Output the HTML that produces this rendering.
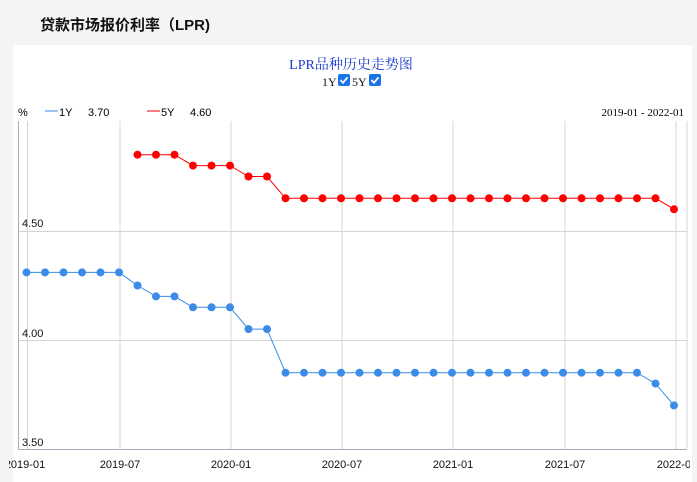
<!DOCTYPE html>
<html><head><meta charset="utf-8"><style>
body{margin:0;width:697px;height:482px;background:#f4f4f4;font-family:"Liberation Sans","Noto Sans CJK SC",sans-serif;overflow:hidden;position:relative}
.h{position:absolute;left:40px;top:14px;font-size:15px;color:#111;font-weight:600}
.card{position:absolute;left:13px;top:45px;width:679px;height:437px;background:#fff}
</style></head><body>
<div class="h">贷款市场报价利率（LPR)</div>
<div class="card"></div>
<svg id="s" width="697" height="482" style="position:absolute;left:0;top:0" font-family="Liberation Sans, sans-serif">
<defs><clipPath id="c"><rect x="9" y="450" width="681" height="30"/></clipPath></defs>
<text x="351" y="69" text-anchor="middle" font-family="Liberation Serif, Noto Serif CJK SC, serif" font-size="14" fill="#1a3ccc">LPR品种历史走势图</text>
<text x="322" y="86" font-family="Liberation Serif, serif" font-size="12" fill="#111">1Y</text>
<rect x="338" y="74" width="12" height="12" rx="2" fill="#1a73e8"/><path d="M340.5 80l2.5 2.8 4.5-5.5" stroke="#fff" stroke-width="1.8" fill="none"/>
<text x="352" y="86" font-family="Liberation Serif, serif" font-size="12" fill="#111">5Y</text>
<rect x="369" y="74" width="12" height="12" rx="2" fill="#1a73e8"/><path d="M371.5 80l2.5 2.8 4.5-5.5" stroke="#fff" stroke-width="1.8" fill="none"/>
<text x="18" y="116" font-size="11" fill="#000">%</text>
<line x1="45" y1="111" x2="58" y2="111" stroke="#3b8be8"/>
<text x="59" y="116" font-size="11">1Y</text><text x="88" y="116" font-size="11">3.70</text>
<line x1="147" y1="111" x2="160" y2="111" stroke="#e00"/>
<text x="161" y="116" font-size="11">5Y</text><text x="190" y="116" font-size="11">4.60</text>
<text x="684" y="116" text-anchor="end" font-family="Liberation Serif, serif" font-size="11">2019-01 - 2022-01</text>
<g id="grid" stroke="#d4d4d4" stroke-width="1"></g>
<line x1="18.5" y1="121" x2="18.5" y2="449" stroke="#aab"/>
<line x1="18" y1="449.5" x2="687" y2="449.5" stroke="#aab"/>
<g font-size="11" fill="#111">
<text x="22" y="227">4.50</text><text x="22" y="337">4.00</text><text x="22" y="446">3.50</text></g>
<g font-size="11" fill="#111" clip-path="url(#c)">
<text x="25" y="468" text-anchor="middle">2019-01</text><text x="120" y="468" text-anchor="middle">2019-07</text>
<text x="231" y="468" text-anchor="middle">2020-01</text><text x="342" y="468" text-anchor="middle">2020-07</text>
<text x="453" y="468" text-anchor="middle">2021-01</text><text x="565" y="468" text-anchor="middle">2021-07</text>
<text x="677" y="468" text-anchor="middle">2022-01</text></g>
<g id="data"></g>
</svg>
<script>
var ns="http://www.w3.org/2000/svg",g=document.getElementById('grid'),d=document.getElementById('data');
function el(p,t,a){var e=document.createElementNS(ns,t);for(var k in a)e.setAttribute(k,a[k]);p.appendChild(e);return e}
[27.5,120,231,342,453,565,676,687].forEach(function(x){el(g,'line',{x1:x,y1:121,x2:x,y2:449})});
[231,340].forEach(function(y){el(g,'line',{x1:18,y1:y+.5,x2:687,y2:y+.5})});
function X(i){return 26.5+18.5*i}function Y(v){return 340-(v-4)*218}
var a=[4.31,4.31,4.31,4.31,4.31,4.31,4.25,4.2,4.2,4.15,4.15,4.15,4.05,4.05];
while(a.length<34)a.push(3.85);a.push(3.8,3.7);
var b=[4.85,4.85,4.85,4.8,4.8,4.8,4.75,4.75];while(b.length<29)b.push(4.65);b.push(4.6);
function ser(arr,off,c){var p=arr.map(function(v,i){return X(i+off)+','+Y(v)}).join(' ');
el(d,'polyline',{points:p,fill:'none',stroke:c,'stroke-width':1});
arr.forEach(function(v,i){el(d,'circle',{cx:X(i+off),cy:Y(v),r:4,fill:c})})}
ser(a,0,'#3b8be8');ser(b,6,'#f00');
</script>
</body></html>
